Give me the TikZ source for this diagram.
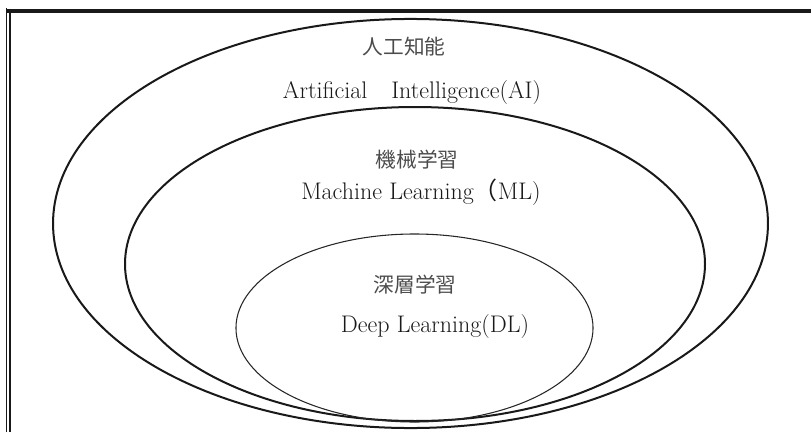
\documentclass[tikz,border=0pt]{standalone}
\usepackage{fontspec}
\newfontfamily\jp{Noto Sans CJK JP}
\begin{document}
\begin{tikzpicture}[x=0.75pt,y=-0.75pt,
  thick line/.style={line width=1.5pt, draw=black!90},
  thin line/.style={line width=0.8pt, draw=black!85},
  jlabel/.style={inner sep=0pt, font=\jp\fontsize{15.5}{18}\selectfont, text=black!70},
  elabel/.style={inner sep=0pt, font=\fontsize{18}{21}\selectfont, text=black!90}]
\useasboundingbox (0,0) rectangle (811,432);
% frame
\coordinate (tl) at (6,10.8);
\coordinate (tr) at (811,10.8);
\draw[line width=2.7pt, draw=black!90] (tl) -- (tr);
\coordinate (l1a) at (6.6,8);
\coordinate (l1b) at (6.6,432);
\draw[line width=1pt, draw=black!90] (l1a) -- (l1b);
\coordinate (l2a) at (9.9,12);
\coordinate (l2b) at (9.9,432);
\draw[line width=1.3pt, draw=black!90] (l2a) -- (l2b);
% ellipses
\coordinate (cAI) at (410.5,223.5);
\coordinate (cML) at (415,264);
\coordinate (cDL) at (414.5,328);
\draw[thick line] (cAI) ellipse [x radius=268.1pt, y radius=153.4pt];
\draw[thick line] (cML) ellipse [x radius=217.5pt, y radius=117.75pt];
\draw[thin line] (cDL) ellipse [x radius=133.9pt, y radius=70.5pt];
% labels
\node[jlabel] (ja) at (404,47) {人工知能};
\node[elabel] (ea) at (412,93) {Artificial{\jp　}Intelligence(AI)};
\node[jlabel] (jm) at (417,160) {機械学習};
\node[elabel] (em) at (421,192) {Machine Learning{\jp（}ML)};
\node[jlabel] (jd) at (415,285) {深層学習};
\node[elabel] (ed) at (435,327) {Deep Learning(DL)};
\end{tikzpicture}
\end{document}
